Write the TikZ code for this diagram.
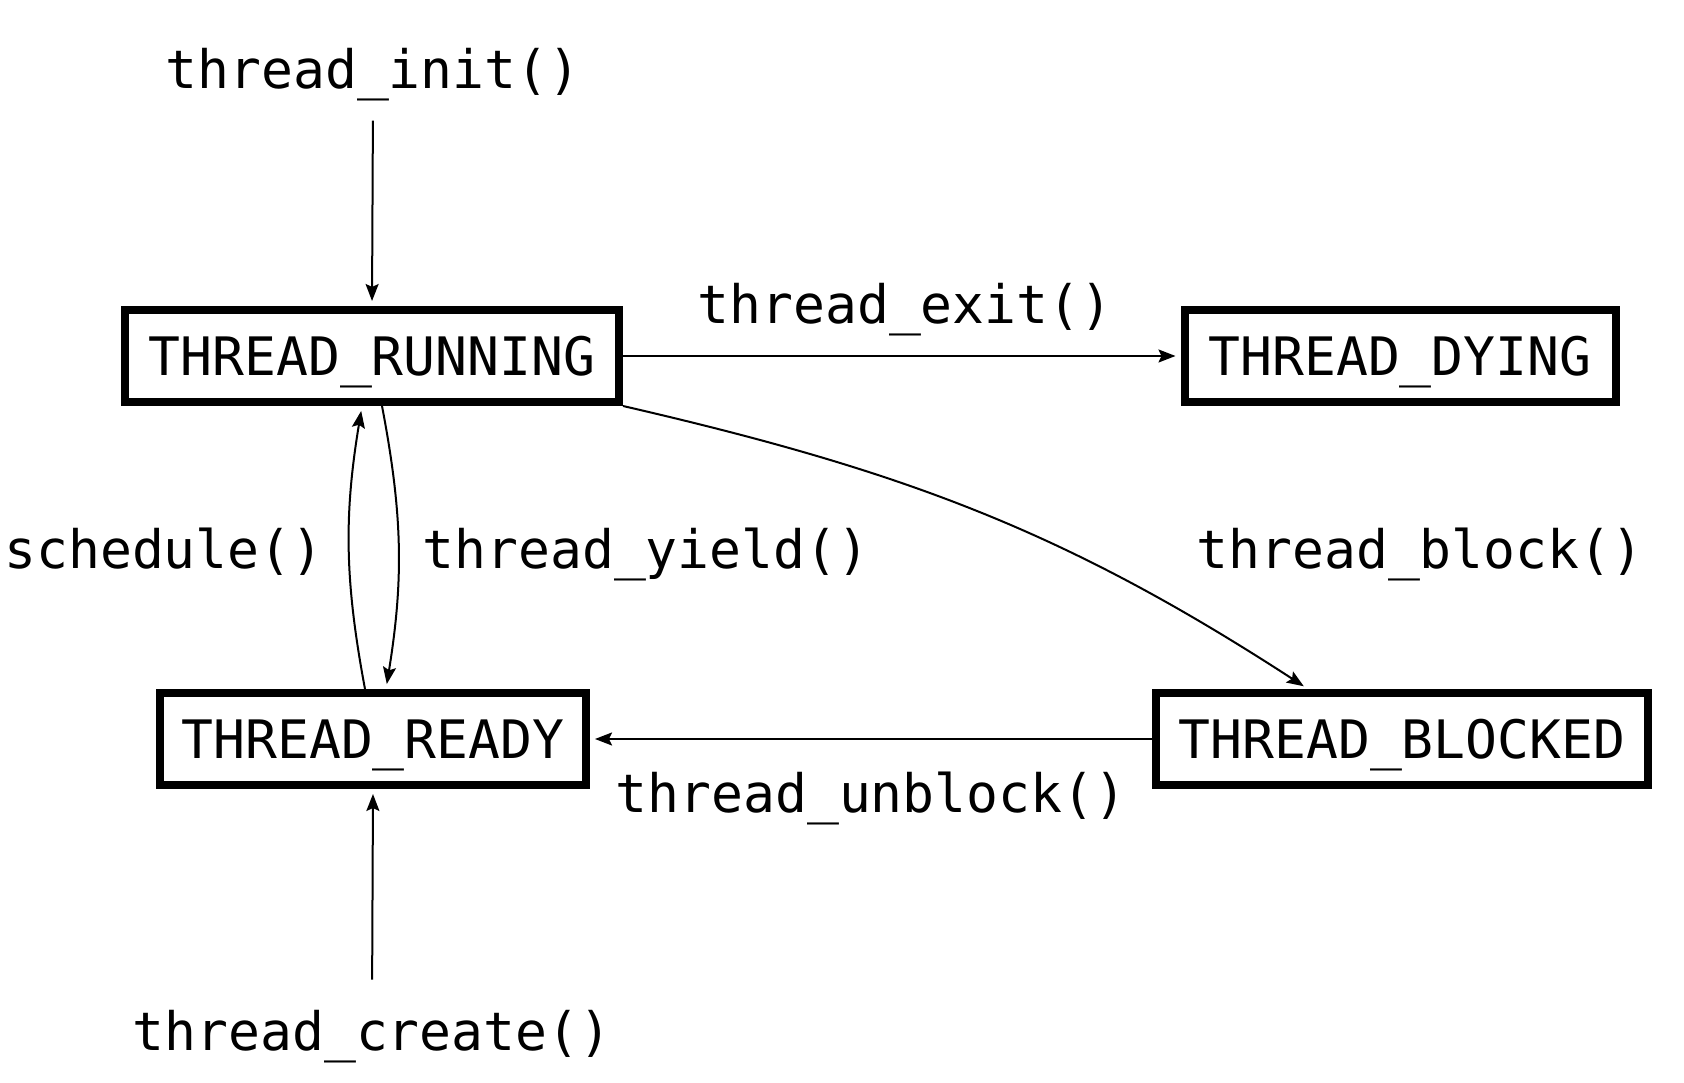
\documentclass[tikz,border=0pt]{standalone}
\usepackage{fontspec}
\newfontfamily\codefont{DejaVu Sans Mono}
\usetikzlibrary{arrows.meta}
\begin{document}
\begin{tikzpicture}[x=1pt,y=1pt,
  every node/.style={font=\codefont\fontsize{53}{60}\selectfont},
  state/.style={draw, line width=8pt, rectangle, inner sep=0pt,
    minimum height=92pt, text height=39pt, text depth=0pt},
  lbl/.style={inner sep=0pt, anchor=base},
  arr/.style={line width=2pt, shorten >=5pt,
    -{Stealth[length=17pt,width=13pt,inset=3pt]}}]
\useasboundingbox (0,0) rectangle (1684,1082);

% thread states
\node[state, minimum width=494pt] (run) at (372,726) {THREAD\_RUNNING};
\node[state, minimum width=431pt] (dyi) at (1400,726) {THREAD\_DYING};
\node[state, minimum width=426pt] (rdy) at (373,343) {THREAD\_READY};
\node[state, minimum width=492pt] (blk) at (1402,343) {THREAD\_BLOCKED};

% transition labels
\node[lbl] (init)    at (373,993)  {thread\_init()};
\node[lbl] (exit)    at (905,758)  {thread\_exit()};
\node[lbl] (sched)   at (164,513)  {schedule()};
\node[lbl] (yield)   at (646,513)  {thread\_yield()};
\node[lbl] (block)   at (1420,513) {thread\_block()};
\node[lbl] (unblock) at (871,269)  {thread\_unblock()};
\node[lbl] (create)  at (372,32)   {thread\_create()};

% transitions
\draw[arr, shorten <=19pt] (init.south) -- (run.north);
\draw[arr] (run.east) -- (dyi.west);
\draw[arr] ([xshift=-8pt]rdy.north) to[bend left=10] ([xshift=-10pt]run.south);
\draw[arr] ([xshift=10pt]run.south) to[bend left=10] ([xshift=13pt]rdy.north);
\draw[arr] (run.south east) to[out=-13,in=147] ([xshift=-94pt]blk.north);
\draw[arr] (blk.west) -- (rdy.east);
\draw[arr, shorten <=30pt] (create.north) -- (rdy.south);
\end{tikzpicture}
\end{document}
